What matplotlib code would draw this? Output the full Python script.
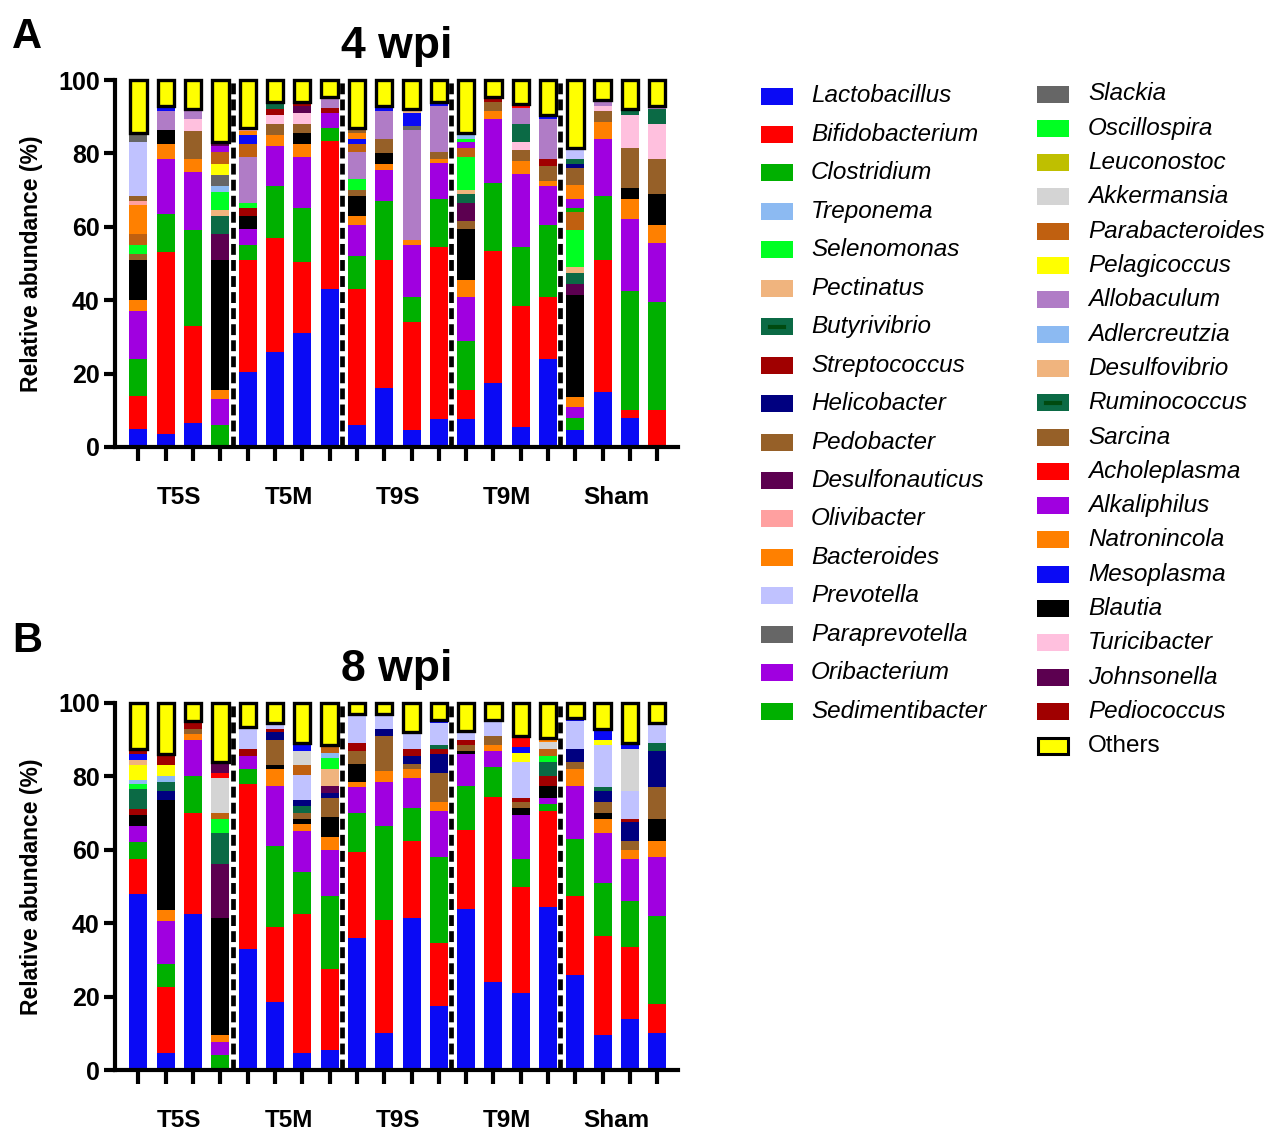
import matplotlib
matplotlib.use("Agg")
import matplotlib.pyplot as plt
from matplotlib.patches import Rectangle
import matplotlib.transforms as mtransforms

plt.rcParams['font.family'] = ['Liberation Sans', 'DejaVu Sans']

# genus code -> (name, colour)
taxa = {
    "Lac": ("Lactobacillus", "#0A0AF5"),
    "Bif": ("Bifidobacterium", "#FF0000"),
    "Clo": ("Clostridium", "#00B000"),
    "Tre": ("Treponema", "#8CBAF2"),
    "Sel": ("Selenomonas", "#00FF22"),
    "Pec": ("Pectinatus", "#F0B47E"),
    "But": ("Butyrivibrio", "#0B6A45"),
    "Str": ("Streptococcus", "#A00000"),
    "Hel": ("Helicobacter", "#000080"),
    "Ped": ("Pedobacter", "#966028"),
    "Dsn": ("Desulfonauticus", "#5C0050"),
    "Oli": ("Olivibacter", "#FFA0A0"),
    "Bac": ("Bacteroides", "#FF8000"),
    "Pre": ("Prevotella", "#C0C2FF"),
    "Par": ("Paraprevotella", "#666666"),
    "Ori": ("Oribacterium", "#A000E0"),
    "Sed": ("Sedimentibacter", "#00B000"),
    "Sla": ("Slackia", "#666666"),
    "Osc": ("Oscillospira", "#00FF22"),
    "Leu": ("Leuconostoc", "#BFBF00"),
    "Akk": ("Akkermansia", "#D4D4D4"),
    "Pab": ("Parabacteroides", "#C06010"),
    "Pel": ("Pelagicoccus", "#FFFF00"),
    "All": ("Allobaculum", "#B07CC6"),
    "Adl": ("Adlercreutzia", "#8CBAF2"),
    "Dsv": ("Desulfovibrio", "#F0B47E"),
    "Rum": ("Ruminococcus", "#0B6A45"),
    "Sar": ("Sarcina", "#966028"),
    "Ach": ("Acholeplasma", "#FF0000"),
    "Alk": ("Alkaliphilus", "#A000E0"),
    "Nat": ("Natronincola", "#FF8000"),
    "Mes": ("Mesoplasma", "#0A0AF5"),
    "Bla": ("Blautia", "#000000"),
    "Tur": ("Turicibacter", "#FFC0DE"),
    "Joh": ("Johnsonella", "#5C0050"),
    "Pdc": ("Pediococcus", "#A00000"),
    "Oth": ("Others", "#FFFF00"),
}

legend_col1 = ["Lac", "Bif", "Clo", "Tre", "Sel", "Pec", "But", "Str", "Hel",
               "Ped", "Dsn", "Oli", "Bac", "Pre", "Par", "Ori", "Sed"]
legend_col2 = ["Sla", "Osc", "Leu", "Akk", "Pab", "Pel", "All", "Adl", "Dsv",
               "Rum", "Sar", "Ach", "Alk", "Nat", "Mes", "Bla", "Tur", "Joh",
               "Pdc", "Oth"]

groups = ["T5S", "T5M", "T9S", "T9M", "Sham"]

# relative abundance (%) per sample, bottom to top
wpi4_T5S = [
    [("Lac", 5), ("Bif", 9), ("Clo", 10), ("Ori", 13), ("Bac", 3), ("Bla", 11), ("Ped", 1.5), ("Sel", 2.5),
     ("Pab", 3), ("Nat", 8), ("Oli", 1), ("Sar", 1.5), ("Pre", 14.5), ("Par", 2.5), ("Oth", 14.5)],
    [("Lac", 3.5), ("Bif", 49.5), ("Clo", 10.5), ("Ori", 15), ("Bac", 4), ("Bla", 4), ("All", 5), ("Mes", 1.5),
     ("Oth", 7)],
    [("Lac", 6.5), ("Bif", 26.5), ("Clo", 26), ("Ori", 16), ("Bac", 3.5), ("Ped", 7.5), ("Tur", 3.5), ("All", 2.5),
     ("Oth", 8)],
    [("Clo", 6), ("Ori", 7), ("Bac", 2.5), ("Bla", 35.5), ("Dsn", 7), ("But", 5), ("Pec", 1.5), ("Sel", 5),
     ("Tre", 1.5), ("Par", 1), ("Sla", 2), ("Pel", 3), ("Pab", 3.5), ("Alk", 1.5), ("Joh", 1), ("Oth", 17)],
]
wpi4_T5M = [
    [("Lac", 20.5), ("Bif", 30.5), ("Clo", 4), ("Ori", 4.5), ("Bla", 3.5), ("Str", 2), ("Sel", 1.5), ("All", 12.5),
     ("Pab", 3.5), ("Mes", 2.5), ("Nat", 1), ("Oli", 1), ("Oth", 13)],
    [("Lac", 26), ("Bif", 31), ("Clo", 14), ("Ori", 11), ("Bac", 3), ("Ped", 3), ("Tur", 2.5), ("Str", 1.5),
     ("Rum", 2), ("Oth", 6)],
    [("Lac", 31), ("Bif", 19.5), ("Clo", 14.5), ("Ori", 14), ("Bac", 3.5), ("Bla", 3), ("Ped", 2.5), ("Tur", 3),
     ("Joh", 2), ("Pdc", 1), ("Oth", 6)],
    [("Lac", 43), ("Bif", 40.5), ("Clo", 3.5), ("Ori", 4), ("Str", 1.5), ("All", 3), ("Oth", 4.5)],
]
wpi4_T9S = [
    [("Lac", 6), ("Bif", 37), ("Clo", 9), ("Ori", 8.5), ("Bac", 2.5), ("Bla", 5.5), ("Ped", 1.5), ("Sel", 3),
     ("All", 7.5), ("Pab", 2), ("Mes", 1.5), ("Nat", 1.5), ("Sar", 1.5), ("Oth", 13)],
    [("Lac", 16), ("Bif", 35), ("Clo", 16), ("Ori", 8.5), ("Bac", 1.5), ("Bla", 3), ("Ped", 4), ("All", 7.5),
     ("Mes", 1.5), ("Oth", 7)],
    [("Lac", 4.5), ("Bif", 29.5), ("Clo", 7), ("Ori", 14), ("Bac", 1.5), ("All", 30), ("Par", 1), ("Mes", 3.5),
     ("Pec", 1), ("Oth", 8)],
    [("Lac", 7.5), ("Bif", 47), ("Clo", 13), ("Ori", 10), ("Bac", 1), ("Ped", 2), ("All", 12.5), ("Mes", 1),
     ("Oth", 6)],
]
wpi4_T9M = [
    [("Lac", 7.5), ("Bif", 8), ("Clo", 13.5), ("Ori", 12), ("Bac", 4.5), ("Bla", 14), ("Ped", 2), ("Dsn", 5),
     ("But", 2.5), ("Pec", 1), ("Sel", 9), ("Pab", 2.5), ("Alk", 1.5), ("Osc", 1), ("Tre", 1.5), ("Oth", 14.5)],
    [("Lac", 17.5), ("Bif", 36), ("Clo", 18.5), ("Ori", 17.5), ("Bac", 2), ("Ped", 2.5), ("Str", 1.5), ("Oth", 4.5)],
    [("Lac", 5.5), ("Bif", 33), ("Clo", 16), ("Ori", 20), ("Bac", 3.5), ("Ped", 3), ("Tur", 2), ("Rum", 5),
     ("All", 4.5), ("Ach", 1), ("Oth", 6.5)],
    [("Lac", 24), ("Bif", 17), ("Clo", 19.5), ("Ori", 10.5), ("Bac", 1.5), ("Ped", 4), ("Str", 2), ("All", 11),
     ("Mes", 1), ("Oth", 9.5)],
]
wpi4_Sham = [
    [("Lac", 4.5), ("Clo", 3.5), ("Ori", 3), ("Bac", 2.5), ("Bla", 28), ("Dsn", 3), ("But", 3), ("Pec", 1.5),
     ("Sel", 10), ("Pab", 5), ("Sed", 1), ("Alk", 2.5), ("Nat", 4), ("Sar", 4.5), ("Hel", 1), ("Rum", 1.5),
     ("Pre", 3), ("Oth", 18.5)],
    [("Lac", 15), ("Bif", 36), ("Clo", 17.5), ("Ori", 15.5), ("Bac", 4.5), ("Ped", 3), ("Tur", 1.5), ("All", 1.5),
     ("Oth", 5.5)],
    [("Lac", 8), ("Bif", 2), ("Clo", 32.5), ("Ori", 19.5), ("Bac", 5.5), ("Bla", 3), ("Ped", 11), ("Tur", 9),
     ("Rum", 1.5), ("Oth", 8)],
    [("Bif", 10), ("Clo", 29.5), ("Ori", 16), ("Bac", 5), ("Bla", 8.5), ("Ped", 9.5), ("Tur", 9.5), ("Rum", 4),
     ("All", 1), ("Oth", 7)],
]

wpi8_T5S = [
    [("Lac", 48), ("Bif", 9.5), ("Clo", 4.5), ("Ori", 4.5), ("Bla", 3), ("Str", 1.5), ("But", 5.5), ("Sel", 1.5),
     ("Tre", 1), ("Pel", 4), ("Dsv", 1.5), ("Mes", 1.5), ("Pdc", 1.5), ("Oth", 12.5)],
    [("Lac", 4.5), ("Bif", 18), ("Clo", 6.5), ("Ori", 11.5), ("Bac", 3), ("Bla", 30), ("Hel", 2.5), ("But", 2.5),
     ("Tre", 1.5), ("Pel", 3), ("Pdc", 3), ("Oth", 14)],
    [("Lac", 42.5), ("Bif", 27.5), ("Clo", 10), ("Ori", 10), ("Bac", 1.5), ("Ped", 1.5), ("Pdc", 2), ("Oth", 5)],
    [("Clo", 4), ("Ori", 3.5), ("Bac", 2), ("Bla", 32), ("Dsn", 14.5), ("But", 8.5), ("Sel", 4), ("Pab", 1.5),
     ("Akk", 9.5), ("Ach", 1.5), ("Joh", 3), ("Oth", 16)],
]
wpi8_T5M = [
    [("Lac", 33), ("Bif", 45), ("Clo", 4), ("Ori", 3.5), ("Str", 2), ("Pre", 6), ("Oth", 6.5)],
    [("Lac", 18.5), ("Bif", 20.5), ("Clo", 22), ("Ori", 16.5), ("Bac", 4.5), ("Bla", 1), ("Ped", 7), ("Hel", 2),
     ("Pdc", 1), ("Pre", 1.5), ("Oth", 5.5)],
    [("Lac", 4.5), ("Bif", 38), ("Clo", 11.5), ("Ori", 11), ("Bac", 2), ("Bla", 1.5), ("Ped", 1.5), ("But", 2),
     ("Hel", 1.5), ("Pre", 7), ("Pab", 2.5), ("Akk", 4), ("Mes", 2), ("Oth", 11)],
    [("Lac", 5.5), ("Bif", 22), ("Clo", 20), ("Ori", 12.5), ("Bac", 3.5), ("Bla", 5.5), ("Ped", 5), ("Hel", 1.5),
     ("Dsn", 2), ("Pec", 4.5), ("Sel", 3), ("Tre", 1.5), ("Pab", 2), ("Oth", 11.5)],
]
wpi8_T9S = [
    [("Lac", 36), ("Bif", 23.5), ("Clo", 10.5), ("Ori", 7), ("Bac", 1.5), ("Bla", 5), ("Ped", 3.5), ("Str", 2),
     ("Pre", 7.5), ("Mes", 0.5), ("Oth", 3)],
    [("Lac", 10), ("Bif", 31), ("Clo", 25.5), ("Ori", 12), ("Bac", 3), ("Sar", 9.5), ("Hel", 2), ("Pre", 4),
     ("Oth", 3)],
    [("Lac", 41.5), ("Bif", 21), ("Clo", 9), ("Ori", 8), ("Bac", 2.5), ("Ped", 1.5), ("Hel", 2), ("Pdc", 2),
     ("Pre", 4.5), ("Oth", 8)],
    [("Lac", 17.5), ("Bif", 17), ("Clo", 23.5), ("Ori", 12.5), ("Bac", 2.5), ("Sar", 8), ("Hel", 5), ("Pdc", 1.5),
     ("Rum", 1), ("Pre", 6), ("Mes", 1), ("Oth", 4.5)],
]
wpi8_T9M = [
    [("Lac", 44), ("Bif", 21.5), ("Clo", 12), ("Ori", 8.5), ("Bla", 1), ("Ped", 1.5), ("Str", 1.5), ("Pre", 2.5),
     ("Oth", 7.5)],
    [("Lac", 24), ("Bif", 50.5), ("Clo", 8), ("Ori", 4.5), ("Bac", 1.5), ("Ped", 2.5), ("Pre", 4.5), ("Oth", 4.5)],
    [("Lac", 21), ("Bif", 29), ("Clo", 7.5), ("Ori", 12), ("Bla", 2), ("Ped", 1.5), ("Str", 1), ("Pre", 10),
     ("Pel", 2.5), ("Mes", 1.5), ("Ach", 3), ("Oth", 9)],
    [("Lac", 44.5), ("Bif", 26), ("Clo", 2), ("Ori", 1.5), ("Bla", 3.5), ("Str", 2.5), ("Rum", 4), ("Osc", 1.5),
     ("Pab", 2), ("Akk", 2), ("Nat", 1), ("Oth", 9.5)],
]
wpi8_Sham = [
    [("Lac", 26), ("Bif", 21.5), ("Clo", 15.5), ("Ori", 14.5), ("Bac", 4.5), ("Ped", 2), ("Hel", 3.5), ("Pre", 7.5),
     ("Mes", 1), ("Oth", 4)],
    [("Lac", 9.5), ("Bif", 27), ("Clo", 14.5), ("Ori", 13.5), ("Bac", 4), ("Bla", 1.5), ("Ped", 3), ("Hel", 3),
     ("Rum", 1), ("Pre", 11.5), ("Pel", 1.5), ("Mes", 3), ("Oth", 7)],
    [("Lac", 14), ("Bif", 19.5), ("Clo", 12.5), ("Ori", 11.5), ("Bac", 2.5), ("Ped", 2.5), ("Hel", 5), ("Pdc", 1),
     ("Pre", 7.5), ("Akk", 11.5), ("Mes", 1.5), ("Oth", 11)],
    [("Lac", 10), ("Bif", 8), ("Clo", 24), ("Ori", 16), ("Bac", 4.5), ("Bla", 6), ("Sar", 8.5), ("Hel", 10),
     ("Rum", 2), ("Pre", 5), ("Mes", 0.5), ("Oth", 5.5)],
]

wpi4 = wpi4_T5S + wpi4_T5M + wpi4_T9S + wpi4_T9M + wpi4_Sham
wpi8 = wpi8_T5S + wpi8_T5M + wpi8_T9S + wpi8_T9M + wpi8_Sham

W, H = 1268, 1133
fig = plt.figure(figsize=(W / 100, H / 100), dpi=100)


def draw_panel(ax, bars, title):
    for i, bar in enumerate(bars):
        bottom = 0
        for code, val in bar:
            if code == "Oth":
                ax.bar(i, val, bottom=bottom, width=0.6, color=taxa[code][1],
                       edgecolor="black", linewidth=2.4, clip_on=False, zorder=3)
            else:
                ax.bar(i, val, bottom=bottom, width=0.66, color=taxa[code][1],
                       linewidth=0, clip_on=False, zorder=2)
            bottom += val
    # dashed separators between groups
    for k in range(1, len(groups)):
        ax.vlines(4 * k - 0.55, 0, 100, colors="black", linewidth=3.4,
                  linestyles=(0, (2.3, 1.1)), zorder=4)
    ax.set_xlim(-0.86, 19.76)
    ax.set_ylim(0, 100)
    ax.set_xticks(range(len(bars)))
    ax.set_xticklabels([])
    ax.set_yticks([0, 20, 40, 60, 80, 100])
    ax.tick_params(axis="x", direction="out", length=10, width=3)
    ax.tick_params(axis="y", direction="out", length=8, width=3, pad=3)
    for lab in ax.get_yticklabels():
        lab.set_fontsize(18)
        lab.set_fontweight("bold")
    for s in ["top", "right"]:
        ax.spines[s].set_visible(False)
    for s in ["left", "bottom"]:
        ax.spines[s].set_linewidth(3)
    ax.set_ylabel("Relative abundance (%)", fontsize=16.5, fontweight="bold")
    ax.yaxis.set_label_coords(-0.128, 0.5)
    ax.set_title(title, fontsize=32, fontweight="bold", pad=16)
    trans = mtransforms.blended_transform_factory(ax.transData, ax.transAxes)
    for g, name in enumerate(groups):
        ax.text(4 * g + 1.5, -0.138, name, transform=trans, ha="center",
                va="center", fontsize=17.5, fontweight="bold")


ax_a = fig.add_axes([115 / W, (H - 447) / H, 563 / W, 367 / H])
draw_panel(ax_a, wpi4, "4 wpi")
ax_b = fig.add_axes([115 / W, (H - 1070) / H, 563 / W, 367 / H])
draw_panel(ax_b, wpi8, "8 wpi")

fig.text(12 / W, 1 - 48 / H, "A", fontsize=30, fontweight="bold")
fig.text(12 / W, 1 - 652 / H, "B", fontsize=30, fontweight="bold")

# legend, drawn in pixel space
lax = fig.add_axes([0, 0, 1, 1])
lax.set_xlim(0, W)
lax.set_ylim(H, 0)
lax.axis("off")


def legend_column(codes, x_box, x_text, y0, step):
    for r, code in enumerate(codes):
        name, col = taxa[code]
        y = y0 + step * r
        if code == "Oth":
            lax.add_patch(Rectangle((x_box + 1, y - 8), 30, 16, facecolor=col,
                                    edgecolor="black", linewidth=2.2))
        else:
            lax.add_patch(Rectangle((x_box, y - 8.5), 32, 17, facecolor=col, linewidth=0))
            if code in ("But", "Rum"):
                lax.plot([x_box + 9, x_box + 23], [y, y], color="#004A10", lw=3)
        lax.text(x_text, y, name, fontsize=17.5, va="center", ha="left",
                 style="normal" if code == "Oth" else "italic")


legend_column(legend_col1, 761, 811, 96, 38.45)
legend_column(legend_col2, 1037, 1088, 94, 34.3)

fig.savefig("out.png", dpi=100)
